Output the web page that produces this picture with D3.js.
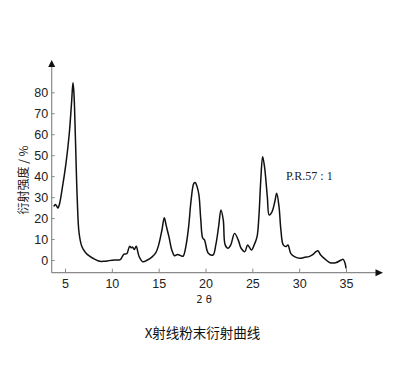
<!DOCTYPE html>
<html>
<head>
<meta charset="utf-8">
<script src="https://cdn.jsdelivr.net/npm/d3@7"></script>
<style>
  html, body { margin: 0; padding: 0; background: #fff; }
  svg { display: block; }
</style>
</head>
<body>
<svg id="chart" width="398" height="392"></svg>
<script>
// ---- data ----
const twoTheta = [3.8, 3.95, 4.1, 4.25, 4.4, 4.7, 5.1, 5.45, 5.7, 5.85, 5.95, 6.1, 6.3, 6.5, 6.8, 7.2, 7.7, 8.2, 8.7, 9.2, 9.7, 10.3, 10.9, 11.1, 11.3, 11.6, 11.9, 12.1, 12.2, 12.4, 12.6, 12.9, 13.3, 13.8, 14.3, 14.7, 15.0, 15.35, 15.6, 15.8, 16.1, 16.4, 16.7, 17.0, 17.3, 17.6, 17.9, 18.2, 18.45, 18.75, 18.9, 19.1, 19.3, 19.5, 19.7, 19.9, 20.3, 20.8, 21.1, 21.4, 21.65, 21.9, 22.1, 22.4, 22.7, 23.1, 23.5, 23.8, 24.2, 24.5, 24.9, 25.2, 25.5, 25.7, 25.9, 26.1, 26.3, 26.6, 26.8, 27.1, 27.4, 27.6, 27.85, 28.05, 28.3, 28.6, 28.8, 29.1, 29.5, 30.1, 30.6, 31.05, 31.4, 31.8, 32.0, 32.3, 32.8, 33.3, 33.9, 34.5, 34.7, 34.9, 35.0];
const intensity = [25.5, 26.5, 25.8, 24.8, 26.5, 34, 46, 60, 75, 84.5, 80, 60, 30, 13, 6.4, 3.5, 1.6, 0.3, -0.6, -0.6, -0.3, 0, 0.2, 1.5, 2.8, 3.0, 6.5, 5.8, 6.2, 5.0, 6.6, 1.8, -0.8, 0, 1.5, 3.5, 7.2, 14.3, 20.2, 16.5, 11, 4.8, 2.0, 2.6, 2.2, 1.8, 6.4, 15.9, 28, 36.5, 37, 35, 31, 19, 10.5, 9.5, 3.2, 2.4, 7.2, 15.9, 23.9, 19, 7.2, 5.6, 7.2, 12.7, 9.5, 5.6, 4, 7.2, 4.8, 7.2, 11, 20.7, 38, 49.3, 44.5, 30.2, 21.5, 23, 27.8, 31.8, 25.4, 14.3, 7.2, 6.4, 7.2, 3.2, 1.6, 0.8, 1.3, 1.6, 2.4, 4, 4.4, 2.4, 0.3, -1.3, -1.3, 0, 0.3, -1.6, -4];
const xTicks = [5, 10, 15, 20, 25, 30, 35];
const yTicks = [0, 10, 20, 30, 40, 50, 60, 70, 80];
const xLabel = "2 θ";
const yLabel = "衍射强度 / %";
const title = "X射线粉末衍射曲线";
const annotation = "P.R.57 : 1";

// ---- scales ----
const x = d3.scaleLinear().domain([5, 35]).range([65, 346]);
const y = d3.scaleLinear().domain([0, 80]).range([260, 92.3]);

const svg = d3.select("#chart");
const axisX = 51.7, axisY = 272.7;
const axisColor = "#8a8a8a";
const font = "'Liberation Sans', Arial, sans-serif";
const cjk = "'Noto Sans CJK SC', sans-serif";

// axis lines
svg.append("line").attr("x1", axisX).attr("x2", axisX).attr("y1", 64).attr("y2", axisY)
  .attr("stroke", axisColor).attr("stroke-width", 1.2);
svg.append("line").attr("x1", axisX).attr("x2", 378).attr("y1", axisY).attr("y2", axisY)
  .attr("stroke", axisColor).attr("stroke-width", 1.2);
// arrows
svg.append("path").attr("d", `M${axisX},60 L${axisX - 3.5},67 L${axisX + 3.5},67 Z`).attr("fill", "#111");
svg.append("path").attr("d", `M383,${axisY} L375.5,${axisY - 3.5} L375.5,${axisY + 3.5} Z`).attr("fill", "#111");

// y axis ticks
const gy = svg.append("g").attr("transform", `translate(${axisX},0)`)
  .call(d3.axisLeft(y).tickValues(yTicks).tickSize(-3).tickPadding(3.5));
gy.select(".domain").remove();
gy.selectAll(".tick line").attr("stroke", axisColor);
gy.selectAll(".tick text").attr("font-family", font).attr("font-size", "12.5px").attr("fill", "#222");

// x axis ticks
const gx = svg.append("g").attr("transform", `translate(0,${axisY})`)
  .call(d3.axisBottom(x).tickValues(xTicks).tickSize(-4).tickPadding(6.5));
gx.select(".domain").remove();
gx.selectAll(".tick line").attr("stroke", axisColor);
gx.selectAll(".tick text").attr("font-family", font).attr("font-size", "12.5px").attr("fill", "#222");

// curve
const data = twoTheta.map((t, i) => [t, intensity[i]]);
svg.append("path").datum(data)
  .attr("fill", "none").attr("stroke", "#111").attr("stroke-width", 1.5)
  .attr("stroke-linejoin", "round")
  .attr("d", d3.line().x(d => x(d[0])).y(d => y(d[1])).curve(d3.curveCatmullRom.alpha(0.5)));

// labels
svg.append("text").attr("x", 204).attr("y", 302.5).attr("text-anchor", "middle")
  .attr("font-family", "'DejaVu Sans', sans-serif").attr("font-size", "10px").attr("fill", "#222").text(xLabel);
svg.append("text").attr("transform", "translate(22.5,180) rotate(-90)")
  .attr("text-anchor", "middle").attr("dominant-baseline", "central")
  .attr("font-family", cjk).attr("font-size", "12px").attr("fill", "#222").text(yLabel);
svg.append("text").attr("x", 286).attr("y", 180)
  .attr("font-family", "'Liberation Serif', 'Times New Roman', serif").attr("font-size", "12px")
  .attr("fill", "#222").text(annotation);
svg.append("text").attr("x", 202.5).attr("y", 331.5).attr("text-anchor", "middle")
  .attr("dominant-baseline", "central")
  .attr("font-family", cjk).attr("font-size", "13.5px").attr("fill", "#111").text(title);
</script>
</body>
</html>
